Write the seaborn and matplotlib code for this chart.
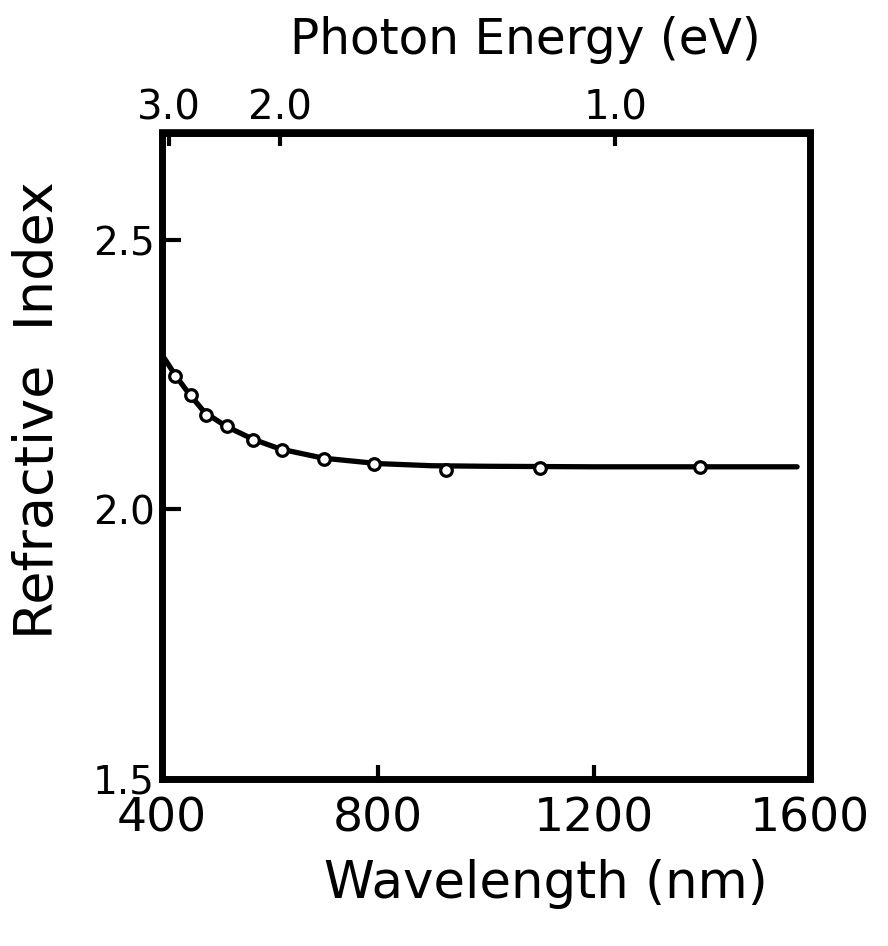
import numpy as np
import pandas as pd
import matplotlib
matplotlib.use("Agg")
import matplotlib.pyplot as plt
import seaborn as sns

# Measured points (wavelength nm, refractive index)
wavelength_pts = [425, 454, 482, 521, 570, 624, 701, 794, 926, 1100, 1397]
index_pts = [2.248, 2.213, 2.175, 2.155, 2.129, 2.110, 2.093, 2.084, 2.073, 2.077, 2.079]

# Smooth fitted curve
wavelength_curve = [405, 425, 450, 480, 520, 570, 620, 700, 800, 900, 1000, 1200, 1400, 1577]
index_curve = [2.281, 2.250, 2.216, 2.180, 2.154, 2.130, 2.112, 2.095, 2.085, 2.081, 2.080, 2.079, 2.079, 2.079]

x_ticks = [400, 800, 1200, 1600]
x_ticklabels = ["400", "800", "1200", "1600"]
y_ticks = [1.5, 2.0, 2.5]
y_ticklabels = ["1.5", "2.0", "2.5"]
ev_ticks = [3.0, 2.0, 1.0]
ev_ticklabels = ["3.0", "2.0", "1.0"]

sns.set_style("ticks")
plt.rcParams["font.family"] = ["DejaVu Sans"]
plt.rcParams["text.color"] = "black"
plt.rcParams["xtick.color"] = "black"
plt.rcParams["ytick.color"] = "black"
plt.rcParams["axes.labelcolor"] = "black"

fig = plt.figure(figsize=(8.88, 9.46), dpi=100)
ax = fig.add_axes([161.5 / 888, 1 - 778.5 / 946, 648 / 888, 646 / 946])

curve = pd.DataFrame({"wl": wavelength_curve, "n": index_curve})
pts = pd.DataFrame({"wl": wavelength_pts, "n": index_pts})

sns.lineplot(data=curve, x="wl", y="n", ax=ax, color="black", linewidth=3.8,
             sort=True, zorder=2)
sns.scatterplot(data=pts, x="wl", y="n", ax=ax, marker="o", s=70,
                facecolor="white", edgecolor="black", linewidth=2.3, zorder=3)

ax.set_xlim(400, 1600)
ax.set_ylim(1.5, 2.7)
ax.set_xticks(x_ticks)
ax.set_xticklabels(x_ticklabels, fontsize=34)
ax.set_yticks(y_ticks)
ax.set_yticklabels(y_ticklabels, fontsize=28)

for s in ax.spines.values():
    s.set_linewidth(5)
    s.set_color("black")

ax.tick_params(axis="x", direction="in", length=10, width=3, pad=13, top=False)
ax.tick_params(axis="y", direction="in", length=14, width=3, pad=5, right=False)

ax.set_xlabel("Wavelength (nm)", fontsize=37, va="center")
ax.xaxis.set_label_coords(0.593, -0.163)
ax.set_ylabel("Refractive  Index", fontsize=39, va="center")
ax.yaxis.set_label_coords(-0.191, 0.570)


def wl_to_ev(x):
    x = np.asarray(x, dtype=float)
    with np.errstate(divide="ignore"):
        return 1240.0 / x


sec = ax.secondary_xaxis("top", functions=(wl_to_ev, wl_to_ev))
sec.set_xticks(ev_ticks)
sec.set_xticklabels(ev_ticklabels, fontsize=29)
sec.tick_params(axis="x", direction="in", length=10, width=3, pad=3)
sec.spines["top"].set_linewidth(5)

fig.text(525 / 888, 1 - 40 / 946, "Photon Energy (eV)", fontsize=35,
         ha="center", va="center", color="black")

fig.savefig("out.png", dpi=100, facecolor="white")
